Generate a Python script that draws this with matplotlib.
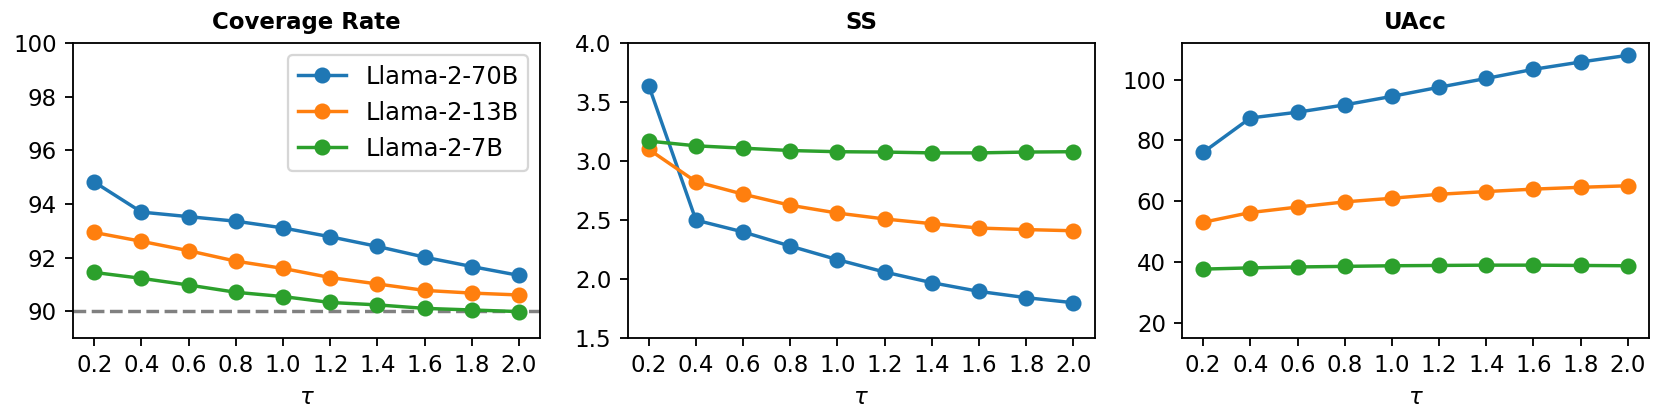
import matplotlib
matplotlib.use('Agg')
import matplotlib.pyplot as plt

tau = [0.2, 0.4, 0.6, 0.8, 1.0, 1.2, 1.4, 1.6, 1.8, 2.0]
models = ['Llama-2-70B', 'Llama-2-13B', 'Llama-2-7B']

coverage_70b = [94.82, 93.70, 93.53, 93.36, 93.11, 92.78, 92.42, 92.02, 91.67, 91.34]
coverage_13b = [92.94, 92.61, 92.26, 91.87, 91.60, 91.26, 91.02, 90.78, 90.68, 90.61]
coverage_7b = [91.45, 91.23, 90.98, 90.71, 90.55, 90.33, 90.24, 90.11, 90.05, 89.99]
coverage_ticks = [90, 92, 94, 96, 98, 100]

ss_70b = [3.64, 2.50, 2.40, 2.28, 2.165, 2.06, 1.97, 1.896, 1.843, 1.80]
ss_13b = [3.10, 2.826, 2.72, 2.626, 2.56, 2.51, 2.47, 2.433, 2.42, 2.41]
ss_7b = [3.17, 3.13, 3.11, 3.09, 3.08, 3.077, 3.07, 3.07, 3.077, 3.08]
ss_ticks = [1.5, 2.0, 2.5, 3.0, 3.5, 4.0]

uacc_70b = [76.1, 87.4, 89.3, 91.7, 94.5, 97.5, 100.4, 103.4, 105.8, 108.0]
uacc_13b = [53.1, 56.3, 58.1, 59.8, 61.0, 62.3, 63.2, 64.0, 64.6, 65.1]
uacc_7b = [37.7, 38.1, 38.4, 38.6, 38.8, 38.9, 39.0, 39.0, 38.9, 38.8]
uacc_ticks = [20, 40, 60, 80, 100]

DPI = 165
plt.rcParams['font.size'] = 10

fig, axes = plt.subplots(1, 3, figsize=(1661 / DPI, 419 / DPI), dpi=DPI)

panels = [
    ('Coverage Rate', [coverage_70b, coverage_13b, coverage_7b], (89, 100), coverage_ticks),
    ('SS', [ss_70b, ss_13b, ss_7b], (1.5, 4.0), ss_ticks),
    ('UAcc', [uacc_70b, uacc_13b, uacc_7b], (15, 112), uacc_ticks),
]

for ax, (title, series, ylim, yticks) in zip(axes, panels):
    for name, values in zip(models, series):
        ax.plot(tau, values, marker='o', label=name)
    ax.set_title(title, fontweight='bold', fontsize=10)
    ax.set_xticks(tau)
    ax.set_yticks(yticks)
    ax.set_xlabel(r'$\tau$')
    ax.set_ylim(*ylim)

axes[0].axhline(90, color='gray', linestyle='--', zorder=0)
axes[0].legend(loc='upper right', fontsize=10.5)

plt.subplots_adjust(left=0.044, right=0.9928, top=0.897, bottom=0.193,
                    wspace=0.187)
fig.savefig('out.png', dpi=DPI)
